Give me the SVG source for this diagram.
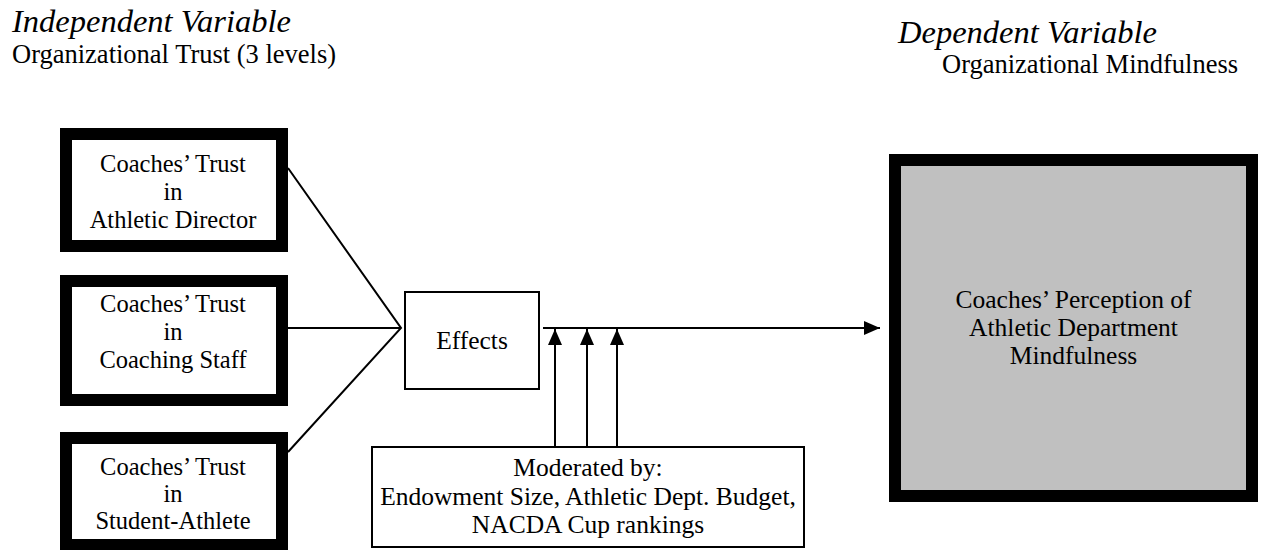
<svg xmlns="http://www.w3.org/2000/svg" width="1263" height="550" viewBox="0 0 1263 550">
<style>
text{font-family:"Liberation Serif","Times New Roman",Times,"DejaVu Serif",serif;fill:#000}
.h{font-size:32.5px;font-style:italic}
.s{font-size:26.5px}
.t{font-size:24.5px;text-anchor:middle}
.m{font-size:25.5px;text-anchor:middle}
.thick{fill:#fff;stroke:#000;stroke-width:12}
.thin{fill:#fff;stroke:#000;stroke-width:2}
.c{stroke:#000;stroke-width:2;fill:none}
</style>
<defs>
<marker id="ah" markerUnits="userSpaceOnUse" markerWidth="16" markerHeight="14" viewBox="0 0 16 14" refX="16" refY="7" orient="auto">
<path d="M0,0 L16,7 L0,14 z" fill="#000"/>
</marker>
</defs>
<rect width="1263" height="550" fill="#fff"/>
<g id="headings">
<text class="h" x="12" y="32">Independent Variable</text>
<text class="s" x="12" y="63">Organizational Trust (3 levels)</text>
<text class="h" x="898" y="43">Dependent Variable</text>
<text class="s" x="942" y="73">Organizational Mindfulness</text>
</g>
<g id="connectors">
<polyline class="c" points="288,168 401,328 288,452"/>
<line class="c" x1="288" y1="328" x2="401" y2="328"/>
<line class="c" x1="543" y1="328" x2="880" y2="328" marker-end="url(#ah)"/>
<line class="c" x1="555" y1="447" x2="555" y2="329" marker-end="url(#ah)"/>
<line class="c" x1="587" y1="447" x2="587" y2="329" marker-end="url(#ah)"/>
<line class="c" x1="617" y1="447" x2="617" y2="329" marker-end="url(#ah)"/>
</g>
<g id="trust-ad">
<rect class="thick" x="66" y="134" width="216" height="112"/>
<text class="t" x="173" y="172">Coaches’ Trust</text>
<text class="t" x="173" y="200">in</text>
<text class="t" x="173" y="228">Athletic Director</text>
</g>
<g id="trust-staff">
<rect class="thick" x="66" y="281" width="216" height="119"/>
<text class="t" x="173" y="312">Coaches’ Trust</text>
<text class="t" x="173" y="340">in</text>
<text class="t" x="173" y="368">Coaching Staff</text>
</g>
<g id="trust-sa">
<rect class="thick" x="66" y="438" width="216" height="107"/>
<text class="t" x="173" y="475">Coaches’ Trust</text>
<text class="t" x="173" y="502">in</text>
<text class="t" x="173" y="529">Student-Athlete</text>
</g>
<g id="effects">
<rect class="thin" x="405" y="292" width="134" height="97"/>
<text class="m" x="472" y="349">Effects</text>
</g>
<g id="moderators">
<rect class="thin" x="372" y="447" width="432" height="100"/>
<text class="m" x="588" y="476">Moderated by:</text>
<text class="m" x="588" y="505">Endowment Size, Athletic Dept. Budget,</text>
<text class="m" x="588" y="533">NACDA Cup rankings</text>
</g>
<g id="mindfulness">
<rect x="895" y="160" width="357" height="336" fill="#c0c0c0" stroke="#000" stroke-width="12"/>
<text class="m" x="1073.5" y="308">Coaches’ Perception of</text>
<text class="m" x="1073.5" y="336">Athletic Department</text>
<text class="m" x="1073.5" y="364">Mindfulness</text>
</g>
</svg>
